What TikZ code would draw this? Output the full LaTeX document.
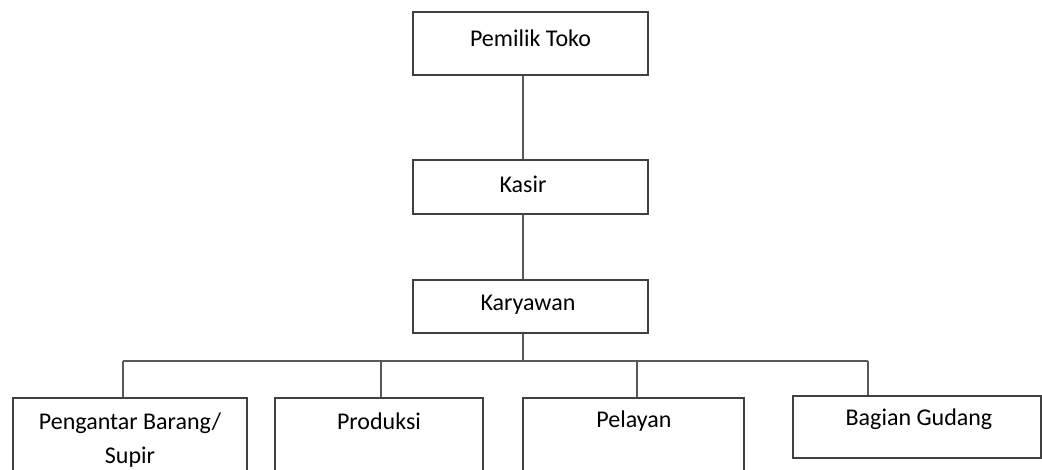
\documentclass[tikz,border=0pt]{standalone}
\usepackage{fontspec}
\setmainfont{Carlito}
\begin{document}
\begin{tikzpicture}[x=1pt,y=-1pt,
  box/.style={draw=black!75,line width=1.8pt,fill=white,inner sep=0pt},
  lbl/.style={inner sep=0pt,font=\fontsize{24}{34}\selectfont,align=center,text=black},
  conn/.style={draw=black!65,line width=2pt}]
\useasboundingbox (0,0) rectangle (1042,470);
\clip (0,0) rectangle (1042,470);
% boxes
\node[box,minimum width=235pt,minimum height=63pt] (pemilik) at (530.5,43.5) {};
\node[box,minimum width=235pt,minimum height=54pt] (kasir) at (530.5,187) {};
\node[box,minimum width=235pt,minimum height=53pt] (karyawan) at (530.5,306.5) {};
\node[box,minimum width=234pt,minimum height=90pt] (b1) at (130,443) {};
\node[box,minimum width=208pt,minimum height=90pt] (b2) at (379,443) {};
\node[box,minimum width=221pt,minimum height=90pt] (b3) at (633.5,443) {};
\node[box,minimum width=248pt,minimum height=62pt] (b4) at (917,427) {};
% labels
\node[lbl] (t1) at (530.5,38) {Pemilik Toko};
\node[lbl] (t2) at (523,184) {Kasir};
\node[lbl] (t3) at (528,305) {Karyawan};
\node[lbl] (t4) at (130,440) {Pengantar Barang/\\Supir};
\node[lbl] (t5) at (379,421) {Produksi};
\node[lbl] (t6) at (634,421) {Pelayan};
\node[lbl] (t7) at (919,419) {Bagian Gudang};
% connectors
\coordinate (bus) at (523,361);
\draw[conn] (pemilik.south -| bus) -- (kasir.north -| bus);
\draw[conn] (kasir.south -| bus) -- (karyawan.north -| bus);
\draw[conn] (karyawan.south -| bus) -- (bus);
\draw[conn] (bus -| 123,0) -- (bus -| 868,0);
\draw[conn] (bus -| 123,0) -- (b1.north -| 123,0);
\draw[conn] (bus -| 381,0) -- (b2.north -| 381,0);
\draw[conn] (bus -| 637,0) -- (b3.north -| 637,0);
\draw[conn] (bus -| 868,0) -- (b4.north -| 868,0);
\end{tikzpicture}
\end{document}
